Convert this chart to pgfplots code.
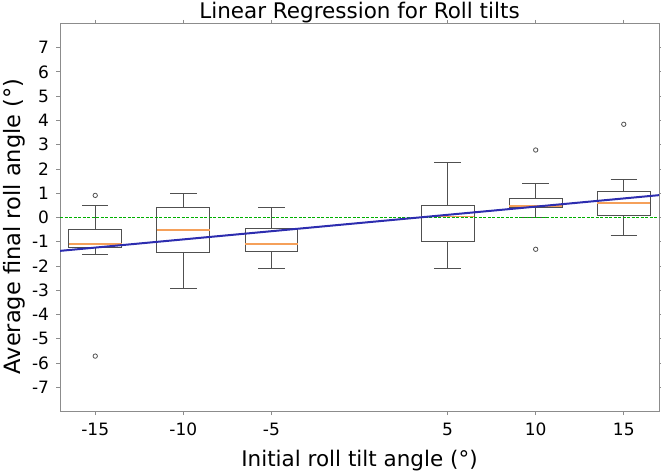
\documentclass[border=0pt]{standalone}
\usepackage{fontspec}
\setmainfont{DejaVu Sans}
\usepackage{pgfplots}
\pgfplotsset{compat=1.18}
\usepgfplotslibrary{statistics}
\definecolor{boxc}{RGB}{80,80,80}
\definecolor{medc}{RGB}{245,160,90}
\definecolor{regc}{RGB}{45,45,175}
\definecolor{zeroc}{RGB}{0,175,0}
\definecolor{framec}{RGB}{140,140,140}
\begin{document}
\begin{tikzpicture}
\path[use as bounding box] (0,0) rectangle (661pt,473pt);
\begin{axis}[
  at={(60pt,61.3pt)}, anchor=south west,
  scale only axis, width=599pt, height=388.4pt,
  xmin=-17, xmax=17, ymin=-8, ymax=8,
  xtick={-15,-10,-5,5,10,15},
  ytick={-7,-6,-5,-4,-3,-2,-1,0,1,2,3,4,5,6,7},
  /pgf/number format/assume math mode=true,
  tick align=outside, major tick length=3.5pt,
  axis line style={draw=framec, line width=0.8pt},
  tick style={draw=framec, line width=0.8pt},
  tick label style={font=\fontsize{17}{17}\selectfont},
  xticklabel style={anchor=base, yshift=-20pt},
  yticklabel style={anchor=east, xshift=-4pt},
  xlabel={Initial roll tilt angle (°)},
  ylabel={Average final roll angle (°)},
  title={Linear Regression for Roll tilts},
  every axis title/.style={font=\fontsize{21.5}{21.5}\selectfont, at={(axis description cs:0.5,1.0129)}, anchor=base},
  xlabel style={font=\fontsize{21.5}{21.5}\selectfont, at={(axis description cs:0.5,-0.1416)}, anchor=base},
  ylabel style={font=\fontsize{22.5}{22.5}\selectfont, at={(axis description cs:-0.0768,0.477)}, anchor=center},
  boxplot/draw direction=y,
  boxplot/box extend=3,
  boxplot/whisker extend=1.5,
  boxplot/every box/.style={draw=boxc, line width=0.9pt},
  boxplot/every whisker/.style={draw=boxc, line width=0.9pt},
  boxplot/every median/.style={draw=medc, line width=1.5pt},
  clip=true,
]
\addplot[boxplot prepared={draw position=-15, lower whisker=-1.51, lower quartile=-1.22, median=-1.09, upper quartile=-0.51, upper whisker=0.49}, mark=o, mark options={draw=boxc, mark size=2.2pt, line width=0.8pt}] coordinates {(0,0.91) (0,-5.71)};
\addplot[boxplot prepared={draw position=-10, lower whisker=-2.92, lower quartile=-1.42, median=-0.51, upper quartile=0.40, upper whisker=0.99}] coordinates {};
\addplot[boxplot prepared={draw position=-5, lower whisker=-2.10, lower quartile=-1.39, median=-1.09, upper quartile=-0.45, upper whisker=0.40}] coordinates {};
\addplot[boxplot prepared={draw position=5, lower whisker=-2.09, lower quartile=-1.0, median=0.05, upper quartile=0.48, upper whisker=2.28}] coordinates {};
\addplot[boxplot prepared={draw position=10, lower whisker=0.01, lower quartile=0.41, median=0.48, upper quartile=0.77, upper whisker=1.40}, mark=o, mark options={draw=boxc, mark size=2.2pt, line width=0.8pt}] coordinates {(0,2.78) (0,-1.31)};
\addplot[boxplot prepared={draw position=15, lower whisker=-0.72, lower quartile=0.07, median=0.59, upper quartile=1.07, upper whisker=1.58}, mark=o, mark options={draw=boxc, mark size=2.2pt, line width=0.8pt}] coordinates {(0,3.84)};
\addplot[color=zeroc, solid, line width=1.6pt, dash pattern=on 3pt off 1.5pt] coordinates {(-17,0) (17,0)};
\addplot[regc, line width=2pt] coordinates {(-17,-1.375) (17,0.92)};
\end{axis}
\end{tikzpicture}
\end{document}
